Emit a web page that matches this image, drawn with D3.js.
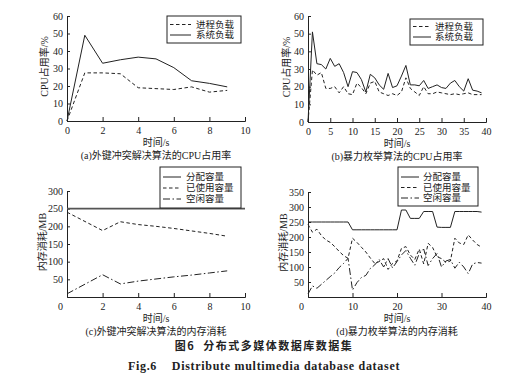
<!DOCTYPE html>
<html>
<head>
<meta charset="utf-8">
<script src="https://cdn.jsdelivr.net/npm/d3@7"></script>
<style>
  body { margin: 0; background: #fff; }
  svg text { font-family: "Liberation Serif", "Noto Sans CJK SC", serif; fill: #222; }
</style>
</head>
<body>
<div id="chart"></div>
<script>
// (a) foreign key conflict algorithm, CPU
const timeA = [0, 1, 2, 3, 4, 5, 6, 7, 8, 9];
const cpuProcA = [0, 27.5, 27.5, 27, 19, 18.5, 18, 19.5, 16.5, 17.5];
const cpuSysA = [0, 49, 33, 35, 36.5, 35.5, 30.5, 23, 21.5, 19.5];

// (b) brute force, CPU
const timeB = d3.range(0, 40);
const cpuProcB = [0, 29.5, 26.5, 28, 19, 19, 20, 16.5, 20, 16, 15.5, 22, 19.5, 16, 22, 23, 17, 16, 15, 16,
  15, 17, 25, 19, 17, 15, 20, 16, 16, 17, 16.5, 16, 15.5, 16, 15.5, 16, 16.5, 15.5, 15.5, 15.5];
const cpuSysB = [0, 51, 33, 32.5, 30, 36, 31.5, 33, 28, 20, 28.5, 28, 24, 17, 27, 25, 21, 18.5, 27.5, 19.5,
  20.5, 26, 32, 21, 21, 20.5, 23.5, 19, 20, 21, 19.5, 19, 22, 23.5, 20, 17.5, 24.5, 18, 17.5, 16.5];

// (c) foreign key conflict algorithm, memory
const timeC = [0, 2, 3, 4, 5, 6, 7, 8, 9];
const memAllocC = [250, 250, 250, 250, 250, 250, 250, 250, 250];
const memUsedC = [240, 188, 213, 205, 200, 194, 187, 180, 172];
const memFreeC = [9, 63, 37, 45, 51, 57, 62, 68, 74];
const allocSpanC = [0, 10];

// (d) brute force, memory
const timeD = d3.range(0, 40);
const memAllocD = [250, 250, 250, 250, 250, 250, 250, 250, 250, 250, 224, 224, 224, 224, 224, 224, 224, 224, 224, 224,
  224, 290, 290, 262, 262, 262, 285, 285, 285, 233, 232, 232, 232, 285, 285, 285, 285, 285, 285, 283];
const memUsedD = [242, 216, 226, 205, 190, 182, 168, 152, 138, 129, 196, 182, 166, 150, 130, 112, 118, 128, 92, 112,
  120, 162, 168, 140, 125, 160, 110, 179, 165, 134, 128, 115, 120, 196, 180, 175, 207, 190, 175, 166];
const memFreeD = [10, 37, 29, 42, 55, 68, 80, 98, 112, 129, 23, 48, 65, 72, 95, 107, 125, 100, 128, 97,
  118, 140, 155, 129, 106, 145, 160, 105, 128, 145, 100, 120, 125, 96, 116, 100, 78, 110, 115, 113];

const yTicksCpu = [0, 10, 20, 30, 40, 50, 60];
const xTicksA = [0, 2, 4, 6, 8, 10];
const xTicksB = [0, 5, 10, 15, 20, 25, 30, 35, 40];
const yTicksC = [50, 100, 150, 200, 250, 300];
const xTicksC = [2, 4, 6, 8, 10];
const yTicksD = [50, 100, 150, 200, 250, 300, 350];
const xTicksD = [10, 20, 30, 40];

const legendCpu = ["进程负载", "系统负载"];
const legendMem = ["分配容量", "已使用容量", "空闲容量"];

const ink = "#222";
const dashProc = "3.5,2.5";
const dashFree = "7,2.5,1.5,2.5";

const svg = d3.select("#chart").append("svg").attr("width", 528).attr("height", 377);

function panel(cfg) {
  const x = d3.scaleLinear().domain(cfg.xDomain).range(cfg.xRange);
  const y = d3.scaleLinear().domain(cfg.yDomain).range(cfg.yRange);
  const g = svg.append("g");

  const xAxis = d3.axisBottom(x).tickValues(cfg.xTicks).tickSize(-4).tickPadding(6).tickFormat(d3.format("d"));
  const yAxis = d3.axisLeft(y).tickValues(cfg.yTicks).tickSize(-3).tickPadding(4).tickFormat(d3.format("d"));

  g.append("g").attr("transform", `translate(0,${cfg.yRange[0]})`).call(xAxis)
    .call(s => s.select(".domain").attr("stroke", ink))
    .call(s => s.selectAll("line").attr("stroke", ink))
    .call(s => s.selectAll("text").attr("font-size", 10).attr("fill", ink).style("font-family", "Liberation Serif"));
  g.append("g").attr("transform", `translate(${cfg.xRange[0]},0)`).call(yAxis)
    .call(s => s.select(".domain").attr("stroke", ink))
    .call(s => s.selectAll("line").attr("stroke", ink))
    .call(s => s.selectAll("text").attr("font-size", 10).attr("fill", ink).style("font-family", "Liberation Serif"));

  if (cfg.cornerZero) {
    g.append("text").attr("x", cfg.xRange[0] - 4).attr("y", cfg.yRange[0] + 13)
      .attr("text-anchor", "end").attr("font-size", 10).text("0");
  }

  const line = d3.line().x(d => x(d[0])).y(d => y(d[1]));
  cfg.series.forEach(s => {
    g.append("path")
      .attr("d", line(s.xs.map((t, i) => [t, s.ys[i]])))
      .attr("fill", "none")
      .attr("stroke", s.color || ink)
      .attr("stroke-width", s.width || 1)
      .attr("stroke-dasharray", s.dash || null);
  });

  // legend
  const L = cfg.legend;
  g.append("rect").attr("x", L.x).attr("y", L.y).attr("width", L.w).attr("height", L.h)
    .attr("fill", "#fff").attr("stroke", ink).attr("stroke-width", 1);
  L.items.forEach((it, i) => {
    const yy = L.y + L.first + i * L.step;
    g.append("line").attr("x1", L.x + L.lx0).attr("x2", L.x + L.lx1).attr("y1", yy).attr("y2", yy)
      .attr("stroke", ink).attr("stroke-dasharray", it.dash || null);
    g.append("text").attr("x", L.x + L.tx).attr("y", yy + 3.3).attr("font-size", 9.5)
      .style("font-family", "Noto Sans CJK SC").text(it.label);
  });

  const xm = (cfg.xRange[0] + cfg.xRange[1]) / 2;
  g.append("text").attr("x", xm).attr("y", cfg.yRange[0] + 25).attr("text-anchor", "middle")
    .attr("font-size", 10).text("时间/s");
  g.append("text").attr("x", xm).attr("y", cfg.yRange[0] + 38).attr("text-anchor", "middle")
    .attr("font-size", 10).text(cfg.caption);
  g.append("text").attr("transform", `translate(${cfg.yLabelX},${(cfg.yRange[0] + cfg.yRange[1]) / 2 - 2}) rotate(-90)`)
    .attr("text-anchor", "middle").attr("font-size", 10).text(cfg.yLabel);
}

panel({
  xDomain: [0, 10], xRange: [67, 245], yDomain: [0, 60], yRange: [121, 16],
  xTicks: xTicksA, yTicks: yTicksCpu, yLabel: "CPU占用率/%", yLabelX: 48,
  caption: "(a)外键冲突解决算法的CPU占用率",
  series: [
    { xs: timeA, ys: cpuProcA, dash: dashProc },
    { xs: timeA, ys: cpuSysA }
  ],
  legend: { x: 167, y: 16, w: 74, h: 27, first: 8.5, step: 10.5, lx0: 3, lx1: 24, tx: 29,
    items: [{ label: legendCpu[0], dash: dashProc }, { label: legendCpu[1] }] }
});

panel({
  xDomain: [0, 40], xRange: [308, 486], yDomain: [0, 60], yRange: [122, 16],
  xTicks: xTicksB, yTicks: yTicksCpu, yLabel: "CPU占用率/%", yLabelX: 290,
  caption: "(b)暴力枚举算法的CPU占用率",
  series: [
    { xs: timeB, ys: cpuProcB, dash: dashProc },
    { xs: timeB, ys: cpuSysB }
  ],
  legend: { x: 410, y: 19, w: 73, h: 26, first: 7.5, step: 10.5, lx0: 3, lx1: 21, tx: 25,
    items: [{ label: legendCpu[0], dash: dashProc }, { label: legendCpu[1] }] }
});

panel({
  xDomain: [0, 10], xRange: [67, 245], yDomain: [0, 300], yRange: [297, 191],
  xTicks: xTicksC, yTicks: yTicksC, yLabel: "内存消耗/MB", yLabelX: 46, cornerZero: true,
  caption: "(c)外键冲突解决算法的内存消耗",
  series: [
    { xs: allocSpanC, ys: [memAllocC[0], memAllocC[memAllocC.length - 1]], color: "#555", width: 1.6 },
    { xs: timeC, ys: memUsedC, dash: dashProc },
    { xs: timeC, ys: memFreeC, dash: dashFree }
  ],
  legend: { x: 160, y: 167, w: 81, h: 41, first: 10, step: 11, lx0: 3, lx1: 21, tx: 26,
    items: [{ label: legendMem[0] }, { label: legendMem[1], dash: dashProc }, { label: legendMem[2], dash: dashFree }] }
});

panel({
  xDomain: [0, 40], xRange: [308, 486], yDomain: [0, 350], yRange: [297, 192],
  xTicks: xTicksD, yTicks: yTicksD, yLabel: "内存消耗/MB", yLabelX: 287, cornerZero: true,
  caption: "(d)暴力枚举算法的内存消耗",
  series: [
    { xs: timeD, ys: memAllocD },
    { xs: timeD, ys: memUsedD, dash: dashProc },
    { xs: timeD, ys: memFreeD, dash: dashFree }
  ],
  legend: { x: 398, y: 167, w: 80, h: 39, first: 10, step: 10.5, lx0: 3, lx1: 21, tx: 25,
    items: [{ label: legendMem[0] }, { label: legendMem[1], dash: dashProc }, { label: legendMem[2], dash: dashFree }] }
});

svg.append("text").attr("x", 264).attr("y", 350).attr("text-anchor", "middle")
  .attr("font-size", 11).attr("font-weight", "bold").style("font-family", "Noto Sans CJK SC")
  .style("letter-spacing", "1.5px").style("white-space", "pre").text("图6  分布式多媒体数据库数据集");
svg.append("text").attr("x", 264).attr("y", 370).attr("text-anchor", "middle")
  .attr("font-size", 12).attr("font-weight", "bold").style("white-space", "pre")
  .style("letter-spacing", "0.7px").text("Fig.6    Distribute multimedia database dataset");
</script>
</body>
</html>
